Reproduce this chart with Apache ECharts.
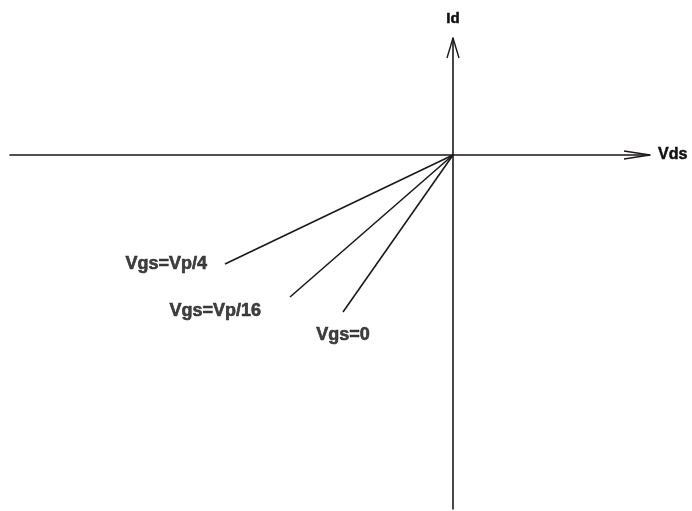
<!DOCTYPE html>
<html>
<head>
<meta charset="utf-8">
<script src="https://cdn.jsdelivr.net/npm/echarts@6/dist/echarts.min.js"></script>
<style>
  html, body { margin: 0; padding: 0; background: #fff; }
  #chart { width: 692px; height: 511px; }
</style>
</head>
<body>
<div id="chart"></div>
<script>
// curve names and their end points (origin is at 0,0)
const curveNames = ['Vgs=Vp/4', 'Vgs=Vp/16', 'Vgs=0'];
const curveEnds = [[-228, -109], [-163, -142], [-110, -157]];

// axis ranges
const xRange = [-443, 197];
const yRange = [-354, 117];

// open arrow heads at the axis ends (relative to axis tip)
const xArrowHead = [[-26, 4], [0, 0], [-26, -4]];
const yArrowHead = [[-6, -20], [0, 0], [6, -20]];

const chart = echarts.init(document.getElementById('chart'));

const labelPos = [
  { position: 'left', distance: 18, offset: [0, 0] },
  { position: 'left', distance: 29, offset: [0, 14] },
  { position: 'bottom', distance: 14, offset: [0, 0] },
];

const font = 'Liberation Sans, Arial, sans-serif';
const ink = '#111111';

const series = curveNames.map((name, i) => ({
  name,
  type: 'line',
  symbol: 'none',
  lineStyle: { color: '#1a1a1a', width: 1.6 },
  data: [[0, 0], curveEnds[i]],
  silent: true,
  z: 3,
}));

// curve captions placed at each curve's end
series.push({
  type: 'scatter',
  symbolSize: 0,
  itemStyle: { color: ink },
  silent: true,
  data: curveNames.map((name, i) => ({
    value: curveEnds[i],
    label: Object.assign({
      show: true,
      formatter: name,
      color: ink,
      fontFamily: font,
      fontWeight: 'bold',
      fontSize: 18,
      textBorderColor: ink,
      textBorderWidth: 0.6,
    }, labelPos[i]),
  })),
});

series.push({
  type: 'line',
  symbol: 'none',
  lineStyle: { color: '#1a1a1a', width: 1.4 },
  data: xArrowHead.map(p => [xRange[1] + p[0], p[1]]),
  silent: true,
});
series.push({
  type: 'line',
  symbol: 'none',
  lineStyle: { color: '#1a1a1a', width: 1.4 },
  data: yArrowHead.map(p => [p[0], yRange[1] + p[1]]),
  silent: true,
});

chart.setOption({
  backgroundColor: '#ffffff',
  animation: false,
  grid: { left: 10, right: 42, top: 38, bottom: 2 },
  xAxis: {
    type: 'value',
    min: xRange[0],
    max: xRange[1],
    name: 'Vds',
    nameLocation: 'end',
    nameGap: 8,
    nameTextStyle: {
      color: ink, fontSize: 16, fontWeight: 'bold',
      fontFamily: font, verticalAlign: 'middle', padding: [7, 0, 0, 0],
      textBorderColor: ink, textBorderWidth: 0.5,
    },
    axisLine: { onZero: true, lineStyle: { color: '#1f1414', width: 1.6 } },
    axisTick: { show: false },
    axisLabel: { show: false },
    splitLine: { show: false },
  },
  yAxis: {
    type: 'value',
    min: yRange[0],
    max: yRange[1],
    name: 'Id',
    nameLocation: 'end',
    nameGap: 12,
    nameTextStyle: {
      color: ink, fontSize: 15, fontWeight: 'bold',
      fontFamily: font, textBorderColor: ink, textBorderWidth: 0.5,
    },
    axisLine: { onZero: true, lineStyle: { color: '#1a1a1a', width: 1.6 } },
    axisTick: { show: false },
    axisLabel: { show: false },
    splitLine: { show: false },
  },
  series,
});
</script>
</body>
</html>
